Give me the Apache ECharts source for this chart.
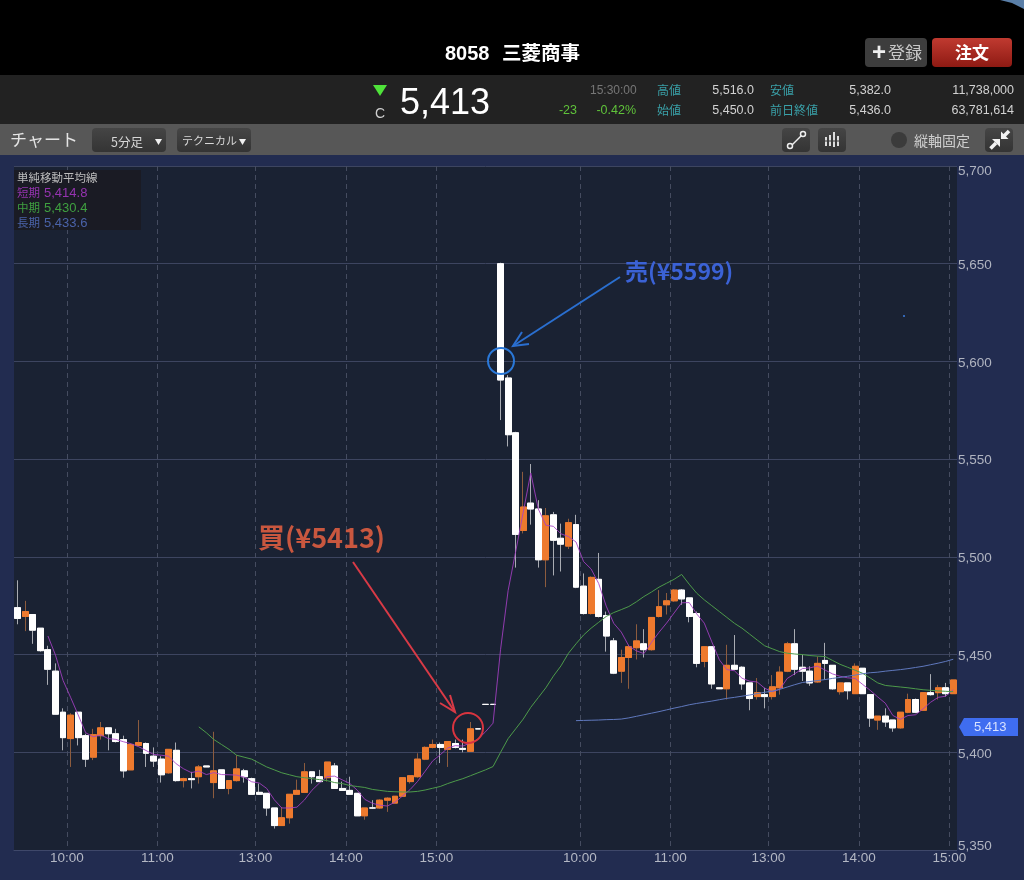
<!DOCTYPE html>
<html><head><meta charset="utf-8">
<style>html,body{margin:0;padding:0;background:#000}#c{width:1024px;height:880px}</style>
<script src="https://cdn.jsdelivr.net/npm/echarts@6/dist/echarts.min.js"></script>
</head><body><div id="c"></div>
<script>
const categories=['9:25','9:30','9:35','9:40','9:45','9:50','9:55','10:00','10:05','10:10','10:15','10:20','10:25','10:30','10:35','10:40','10:45','10:50','10:55','11:00','11:05','11:10','11:15','11:20','11:25','11:30',
'12:30','12:35','12:40','12:45','12:50','12:55','13:00','13:05','13:10','13:15','13:20','13:25','13:30','13:35','13:40','13:45','13:50','13:55','14:00','14:05','14:10','14:15','14:20','14:25','14:30','14:35','14:40','14:45','14:50','14:55','15:00','15:05','15:10','15:15','15:20','15:25','15:30',
'9:00','9:05','9:10','9:15','9:20','9:25','9:30','9:35','9:40','9:45','9:50','9:55','10:00','10:05','10:10','10:15','10:20','10:25','10:30','10:35','10:40','10:45','10:50','10:55','11:00','11:05','11:10','11:15','11:20','11:25','11:30',
'12:30','12:35','12:40','12:45','12:50','12:55','13:00','13:05','13:10','13:15','13:20','13:25','13:30','13:35','13:40','13:45','13:50','13:55','14:00','14:05','14:10','14:15','14:20','14:25','14:30','14:35','14:40','14:45','14:50','14:55','15:00'];
const hourTicks=['10:00','11:00','13:00','14:00','15:00'];
const opens=[5474,5469.5,5470.5,5463.5,5452.5,5441.5,5420.5,5407,5420.5,5408.5,
5397.5,5408.5,5412.5,5409.5,5406.5,5391,5403.5,5404.5,5398,5396.5,
5389.5,5401,5385.5,5386.5,5387.5,5393,5384.5,5391,5381.5,5385.5,
5390.5,5386.5,5379.5,5379,5371.5,5362.5,5366.5,5378.5,5379.5,5390,
5387.5,5387,5393,5381.5,5380.5,5379,5367.5,5371.5,5371.5,5375.5,
5374,5377.5,5385,5387.5,5396.5,5402.5,5404,5401.5,5404.5,5402,
5400.5,5412,5424.5,5424.5,5650,5591.5,5563.5,5513.5,5527.5,5524.5,
5498.5,5521.5,5509.5,5505.5,5516.5,5485,5471,5488.5,5470,5457,
5441.5,5448.5,5453.5,5455.5,5452.5,5469.5,5475.5,5477.5,5483,5479,
5471,5446.5,5454,5433,5432.5,5444.5,5443.5,5435.5,5428.5,5429.5,
5428.5,5433,5441.5,5455.5,5443.5,5441.5,5436,5447,5444.5,5431,
5435.5,5430,5443,5429.5,5416.5,5418.5,5416.5,5412.5,5420.5,5427,
5421.5,5430.5,5430.5,5433,5430];
const closes=[5468.5,5472,5462.5,5452,5442.5,5419.5,5407.5,5419,5407.5,5396.5,
5409,5412.5,5409.5,5405.5,5390.5,5404,5405,5399.5,5395.5,5388.5,
5401.5,5385.5,5386.5,5386,5392.5,5392.5,5390.5,5381.5,5385.5,5391.5,
5387.5,5378.5,5378.5,5371.5,5362.5,5366.5,5378.5,5380.5,5390,5387.5,
5385,5395,5381.5,5380.5,5378.5,5367.5,5371.5,5371.5,5375.5,5376.5,
5377.5,5387,5388,5396.5,5402.5,5404,5402.5,5405.5,5402.5,5401.5,
5412,5412,5424.5,5424.5,5590.5,5562.5,5511.5,5525.5,5524.5,5498.5,
5521,5508.5,5506.5,5517.5,5484.5,5471,5489.5,5469.5,5459.5,5440.5,
5448.5,5454,5457,5452.5,5469,5474.5,5477.5,5483,5478.5,5469.5,
5445.5,5454,5435,5432.5,5444.5,5442.5,5435,5427.5,5430.5,5428.5,
5433.5,5441,5455.5,5442.5,5441.5,5435.5,5445.5,5445.5,5432.5,5435.5,
5431.5,5444,5430,5417.5,5418.5,5415.5,5412.5,5420.5,5427,5420.5,
5430.5,5429.5,5433,5430,5437];
const lows=[5465.5,5462,5455.5,5451.5,5434.5,5419.5,5401,5392.5,5403.5,5392.5,
5396,5406.5,5401,5405,5387,5391,5403.5,5392.5,5392.5,5384.5,
5389,5385,5382,5381.5,5384,5392.5,5376.5,5381.5,5378.5,5385,
5384.5,5378.5,5378.5,5367.5,5361,5362.5,5363.5,5378.5,5379.5,5384,
5385,5385,5381.5,5380.5,5378.5,5367.5,5365.5,5371,5371,5369.5,
5374,5377.5,5384,5387,5396,5402,5394.5,5392.5,5402,5400,
5400.5,5412,5424.5,5424.5,5570,5556.5,5494.5,5512,5516.5,5494.5,
5484.5,5490.5,5492.5,5504,5484,5470.5,5470.5,5469,5451.5,5440,
5435.5,5432.5,5447.5,5448.5,5452,5469,5470.5,5477,5475.5,5466.5,
5443.5,5443.5,5432.5,5432.5,5427,5442,5432,5421.5,5427,5422.5,
5427,5429.5,5441,5439.5,5436.5,5434,5435.5,5437,5432,5429.5,
5427,5430,5430,5413,5411.5,5413,5410.5,5412,5420,5420,
5421.5,5429,5427,5428.5,5430];
const highs=[5488,5477.5,5470.5,5463.5,5454.5,5445.5,5422.5,5420,5420.5,5409.5,
5412,5415.5,5412.5,5412,5408.5,5404.5,5416.5,5405,5402.5,5398,
5401.5,5405,5387,5390,5393.5,5393,5410.5,5391,5385.5,5398.5,
5391.5,5387,5384,5379,5371.5,5372,5378.5,5386,5394.5,5390,
5391,5395,5394.5,5385,5387.5,5379,5371.5,5375.5,5376,5377,
5377.5,5387,5388,5399.5,5403,5406.5,5405,5405.5,5406.5,5406.5,
5415.5,5412,5424.5,5424.5,5650.5,5593,5564,5543.5,5547.5,5529,
5525,5523,5517,5519.5,5521.5,5491.5,5490,5502,5472,5458.5,
5452.5,5455,5465.5,5463,5469,5483,5481.5,5483.5,5483.5,5479,
5472,5454,5454,5433,5455,5460,5444,5435.5,5438,5433,
5439.5,5444,5456.5,5463,5450,5444,5449,5456,5444.5,5435.5,
5435.5,5445.5,5443,5429.5,5418.5,5422.5,5416.5,5420.5,5430,5427.5,
5430.5,5440,5434.5,5435.5,5437];
const maShort=[null,null,null,null,5459.5,5449.7,5436.8,5428.1,5419.2,5410,5407.9,5408.9,5407,5406.6,5405.4,5404.4,5402.9,5400.9,5398.9,5398.5,5398,5394.1,5391.5,5389.6,5390.4,5388.6,5389.6,5388.6,5388.5,5388.3,5387.3,5384.9,5384.3,5381.5,5375.7,5371.5,5371.5,5371.9,5375.6,5380.6,5384.3,5387.6,5387.8,5385.9,5384.1,5380.6,5375.9,5373.9,5372.9,5372.5,5374.5,5377.6,5380.9,5385.1,5390.3,5395.6,5398.7,5402.2,5403.4,5403.2,5404.8,5406.7,5410.5,5414.9,5452.7,5482.8,5502.7,5522.9,5542.9,5524.5,5516.2,5515.6,5511.8,5510.4,5507.6,5497.6,5493.8,5486.4,5474.8,5466,5461.5,5454.4,5451.9,5450.5,5456.2,5461.4,5466.1,5471.3,5476.5,5476.6,5470.8,5466.1,5456.5,5447.3,5442.3,5441.7,5437.9,5436.4,5436,5432.8,5431,5432.2,5437.8,5440.2,5442.8,5443.2,5444.1,5442.1,5440.1,5438.9,5438.1,5437.8,5434.7,5431.7,5428.3,5425.1,5418.8,5416.9,5418.8,5419.2,5422.2,5425.6,5428.1,5428.7,5432];
const maMid=[null,null,null,null,null,null,null,null,null,null,null,null,null,null,null,null,null,null,null,null,null,null,null,null,
5413,5410,5406.5,5404,5401.5,5398.5,5397.5,5396.5,5394.5,5392.5,5391,5389.5,5388.5,5387.5,5387,5386.5,5386,5385.5,5384.5,5384,5383,5382.5,5382,5381,5380.5,5380,5379.8,5379.7,5379.7,5380,5380.7,5381.6,5382.5,5384,5385.3,5386.5,5388,5389.5,5391,5392.7,
5400,5407,5412,5417,5423,5428,5433,5439,5444.2,5450.7,5455.5,5460,5463.5,5466.5,5469.5,5471.5,5473,5474.6,5477,5479.7,5482,5484.5,5486.5,5488.5,5491,5486,5481.4,5478,5475,5472,5469,5466,5463.5,5460.5,5457.5,5454.5,5453,5451.5,5450.7,5450.3,5450,5449.5,5449.2,5449,5447,5445,5443.5,5442,5440.4,5438,5435.5,5434.2,5433.8,5433.4,5433,5432.5,5432,5431.7,5431.4,5431.2,5431];
const maLongStart=74;
const maLongRead=[5416.2,5416.3,5416.4,5416.5,5416.7,5416.8,5417,5417.6,5418.4,5419.2,5420,5420.8,5421.7,5422.6,5423.4,5424.3,5425,5425.6,5426.2,5426.9,5427.6,5428.1,5428.7,5429.3,5430,5430.7,5431.3,5432.2,5433.4,5434.6,5435.7,5436.2,5436.7,5437.2,5437.8,5438.3,5438.9,5439.5,5440.2,5440.7,5441,5441.5,5441.9,5442.3,5442.8,5443.4,5444,5444.8,5445.6,5446.5,5447.6];
const maLong=new Array(maLongStart).fill(null).concat(maLongRead);
const priceLast=5413;

const F='"Liberation Sans","Noto Sans CJK JP",sans-serif';
const CJK='"Noto Sans CJK JP",sans-serif';
const UP='#ee7a2e',DOWN='#ffffff',UPW='#8d5c3e',DOWNW='#a9acb3';

const full=opens.map((o,i)=>{const up=closes[i]>o;const wc=up?UPW:DOWNW;const fc=up?UP:DOWN;
  return {value:[o,closes[i],lows[i],highs[i]],itemStyle:{color:fc,color0:fc,borderColor:wc,borderColor0:wc,borderColorDoji:wc}};});
const body=opens.map((o,i)=>{const up=closes[i]>o;const fc=up?UP:DOWN;
  return {value:[o,closes[i],Math.min(o,closes[i]),Math.max(o,closes[i])],itemStyle:{color:fc,color0:fc,borderColor:fc,borderColor0:fc,borderColorDoji:'#d9dbe0'}};});

function R(x,y,w,h,fill,r,extra){return Object.assign({type:'rect',shape:{x,y,width:w,height:h,r:r||0},style:{fill},silent:true},extra||{});}
function T(x,y,text,size,color,o){o=o||{};const isCjk=!!o.font;return {type:'text',x,y:y+(isCjk?0:1),silent:true,z:o.z||20,style:{text,fontSize:size,fill:color,fontFamily:o.font||F,fontWeight:o.bold?'bold':'normal',textAlign:o.align||'left',textVerticalAlign:'middle',textBaseline:'middle'}};}
function TRI(x,y,w,h,fill){return {type:'polygon',silent:true,z:20,shape:{points:[[x,y],[x+w,y],[x+w/2,y+h]]},style:{fill}};}
function P(pts,fill){return {type:'polygon',silent:true,z:20,shape:{points:pts},style:{fill}};}
function L(pts,color,w){return {type:'polyline',silent:true,z:30,shape:{points:pts},style:{stroke:color,lineWidth:w,fill:null}};}
function C(cx,cy,r,stroke,w,fill){return {type:'circle',silent:true,z:30,shape:{cx,cy,r},style:{stroke:stroke||null,lineWidth:w||1,fill:fill||null}};}
const grad=(a,b)=>new echarts.graphic.LinearGradient(0,0,0,1,[{offset:0,color:a},{offset:1,color:b}]);

const teal='#3aa0a8',gr='#5fc23a',ln='#d2d2d2';
const g=[
 R(0,0,1024,75,'#000'),
 P([[1000,0],[1024,0],[1024,9],[1012,3]],'#5a7fa8'),
 R(0,75,1024,49,'#222222'),
 R(0,124,1024,31,'#575757'),
 R(957,166,1,685,'#222c50',0,{z:5}),
 T(445,53,'8058',20,'#fff',{bold:true}),
 T(502,53,'三菱商事',19.5,'#fff',{bold:true,font:CJK}),
 R(865,38,62,29,'#3d3d3d',4,{z:10}),
 T(872,52,'+',24,'#eee',{bold:true}),
 T(888,53,'登録',17,'#c8c8c8',{font:CJK}),
 R(932,38,80,29,grad('#c03a30','#8e1a13'),4,{z:10}),
 T(972,53,'注文',17,'#fff',{bold:true,font:CJK,align:'center'}),
 TRI(373,85,14,11,'#4fe33a'),
 T(380,113,'C',14,'#cfcfcf',{align:'center'}),
 T(400,103.5,'5,413',36,'#fff'),
 T(590,90,'15:30:00',12,'#767676'),
 T(657,90,'高値',12,teal,{font:CJK}),
 T(754,90,'5,516.0',12.5,ln,{align:'right'}),
 T(770,90,'安値',12,teal,{font:CJK}),
 T(891,90,'5,382.0',12.5,ln,{align:'right'}),
 T(1014,90,'11,738,000',12.5,ln,{align:'right'}),
 T(577,110,'-23',12.5,gr,{align:'right'}),
 T(636,110,'-0.42%',12.5,gr,{align:'right'}),
 T(657,110,'始値',12,teal,{font:CJK}),
 T(754,110,'5,450.0',12.5,ln,{align:'right'}),
 T(770,110,'前日終値',12,teal,{font:CJK}),
 T(891,110,'5,436.0',12.5,ln,{align:'right'}),
 T(1014,110,'63,781,614',12.5,ln,{align:'right'}),
 T(10,140,'チャート',17,'#e4e4e4',{font:CJK}),
 R(92,128,74,24,grad('#454545','#343434'),4,{z:10}),
 T(111,142,'5分足',12.5,'#d8d8d8',{font:CJK}),
 TRI(155,139,7,6,'#f0f0f0'),
 R(177,128,74,24,grad('#454545','#343434'),4,{z:10}),
 T(182,141,'テクニカル',11,'#d8d8d8',{font:CJK}),
 TRI(239,139,7,6,'#f0f0f0'),
 R(782,128,28,24,grad('#454545','#343434'),4,{z:10}),
 L([[792,145],[802,135]],'#eee',1.5),C(790,146,2.5,'#eee',1.5,'#3a3a3a'),C(803,134,2.5,'#eee',1.5,'#3a3a3a'),
 R(818,128,28,24,grad('#454545','#343434'),4,{z:10}),
 L([[826,137],[826,146]],'#ddd',2),L([[830,135],[830,146]],'#ddd',2),L([[834,132],[834,147]],'#ddd',2),L([[838,136],[838,146]],'#ddd',2),L([[825,141],[840,141]],'#3a3a3a',1),
 C(899,140,8,null,1,'#3b3b3b'),
 T(914,141,'縦軸固定',14,'#cfcfcf',{font:CJK}),
 R(985,128,28,24,grad('#454545','#343434'),4,{z:10}),
 P([[992,139],[1000,139],[1000,147]],'#f2f2f2'),L([[996,143],[990.5,148.5]],'#f2f2f2',3.5),
 P([[1001,131.5],[1001,139],[1008.5,139]],'#f2f2f2'),L([[1004,136],[1009,131]],'#f2f2f2',3.5),
 R(14,170,127,60,'#1a1b24',0,{z:15}),
 T(17,178,'単純移動平均線',11.5,'#bdbdbd',{font:CJK}),
 T(17,193,'短期',11.5,'#9533b0',{font:CJK}),T(44,192,'5,414.8',13,'#9533b0'),
 T(17,208,'中期',11.5,'#3fa040',{font:CJK}),T(44,207,'5,430.4',13,'#3fa040'),
 T(17,223,'長期',11.5,'#4a62a8',{font:CJK}),T(44,222,'5,433.6',13,'#4a62a8'),
 // hand-drawn annotations
 L([[353,562],[455,712]],'#d93a46',2),L([[440,703],[455,712],[450,695]],'#d93a46',2),
 C(468,728,15,'#d9343f',2),
 T(258,538,'買(¥5413)',27,'#c9573f',{bold:true,font:CJK}),
 L([[620,277],[513,346]],'#2a6fd0',2),L([[522,332],[513,346],[529,344]],'#2a6fd0',2),
 C(501,361,13,'#2a78d8',2),
 T(625,271,'売(¥5599)',23,'#3b62d6',{bold:true,font:CJK}),
 C(904,316,1,null,1,'#3c7ee0')
];

const chart=echarts.init(document.getElementById('c'));
const isHour=(i,v)=>hourTicks.includes(v);
const yRich={a:{color:'#b0b4c0',fontSize:13.5,fontFamily:F,padding:[3,0,0,0]},
             top:{color:'#b0b4c0',fontSize:13.5,fontFamily:F,padding:[10,0,0,0]},
             bot:{color:'#b0b4c0',fontSize:13.5,fontFamily:F,padding:[0,0,8,0]}};
chart.setOption({
 animation:false,
 backgroundColor:'#222c50',
 grid:{left:14,right:67,top:166,bottom:30,show:true,backgroundColor:'#1a2233',borderWidth:0},
 xAxis:{type:'category',data:categories,boundaryGap:true,
  axisLine:{show:true,lineStyle:{color:'#3f486a',width:1}},axisTick:{show:false},
  axisLabel:{interval:isHour,margin:2,hideOverlap:false,showMinLabel:true,showMaxLabel:true,
   formatter:v=>'{t|'+v+'}',rich:{t:{color:'#b4b8c4',fontSize:13.5,fontFamily:F,padding:[0,7.5,0,0]}}},
  splitLine:{show:true,interval:isHour,lineStyle:{color:'#454c60',type:[5,4],width:1}}},
 yAxis:{type:'value',min:5350,max:5700,interval:50,position:'right',
  axisLine:{show:false},axisTick:{show:false},
  axisLabel:{margin:1,formatter:v=>{const s=v.toLocaleString('en-US');return '{'+(v===5700?'top':v===5350?'bot':'a')+'|'+s+'}';},rich:yRich},
  splitLine:{show:true,lineStyle:{color:'#3d4560',width:1}}},
 series:[
  {name:'wick',type:'candlestick',data:full,barWidth:6.4,z:3,itemStyle:{borderWidth:1}},
  {name:'body',type:'candlestick',data:body,barWidth:6.4,z:4,itemStyle:{borderWidth:1}},
  {name:'短期',type:'line',data:maShort,showSymbol:false,smooth:false,z:6,lineStyle:{color:'#a63fc4',width:1,opacity:.85}},
  {name:'中期',type:'line',data:maMid,showSymbol:false,smooth:false,z:6,lineStyle:{color:'#4d9a4a',width:1}},
  {name:'長期',type:'line',data:maLong,showSymbol:false,smooth:false,z:6,lineStyle:{color:'#5f78bd',width:1}}
 ],
 graphic:{elements:g}
});
const py=chart.convertToPixel({yAxisIndex:0},priceLast);
chart.setOption({graphic:{elements:g.concat([
 {type:'polygon',silent:true,z:19,shape:{points:[[959,py],[964,py-9],[1018,py-9],[1018,py+9],[964,py+9]]},style:{fill:'#3f6df0'}},
 T(974,py,'5,413',13,'#d8e2ff')
])}});
</script></body></html>
